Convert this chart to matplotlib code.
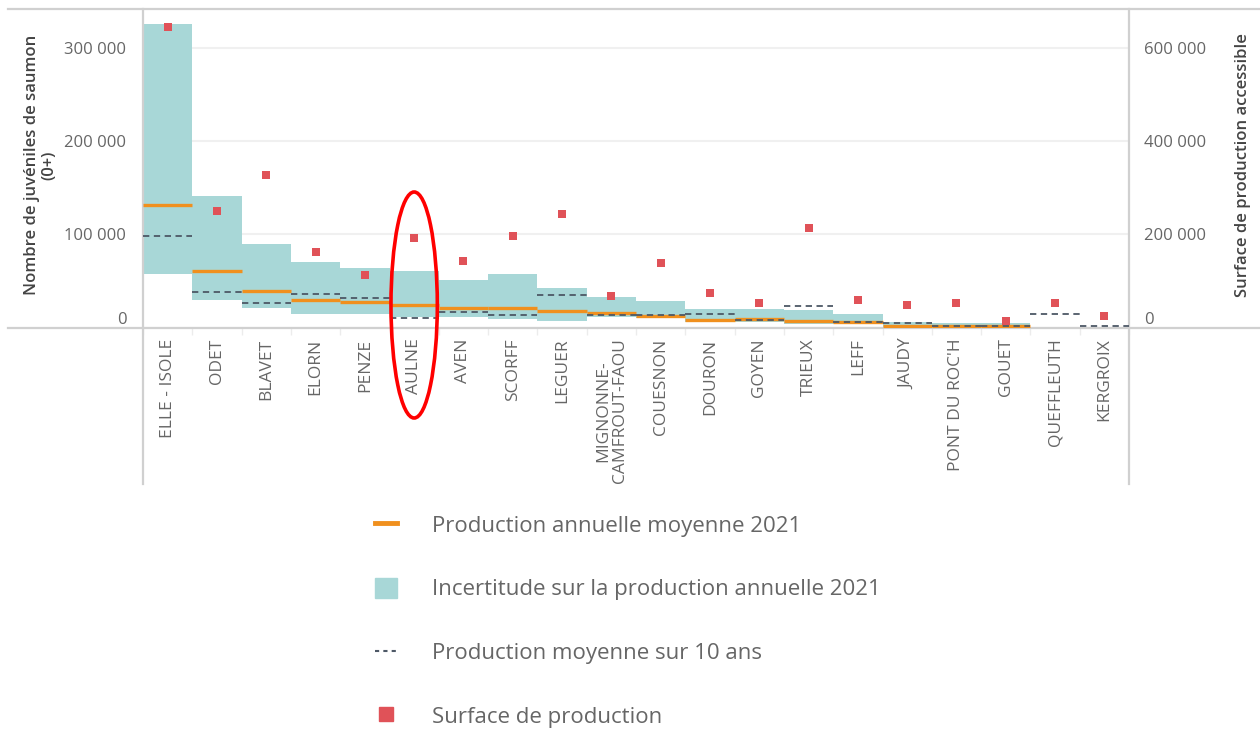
import numpy as np
import matplotlib.pyplot as plt
import matplotlib.transforms as mtransforms
from matplotlib.ticker import FuncFormatter, FixedLocator
from matplotlib.lines import Line2D
from matplotlib.patches import Patch, Ellipse

plt.rcParams['font.family'] = ['Open Sans', 'DejaVu Sans']

# data
rivers = ["ELLE - ISOLE", "ODET", "BLAVET", "ELORN", "PENZE", "AULNE", "AVEN", "SCORFF",
          "LEGUER", "MIGNONNE-\nCAMFROUT-FAOU", "COUESNON", "DOURON", "GOYEN", "TRIEUX",
          "LEFF", "JAUDY", "PONT DU ROC'H", "GOUET", "QUEFFLEUTH", "KERGROIX"]
prod_2021 = [131600, 60900, 39100, 29150, 27650, 24100, 20900, 20600, 17400, 15500,
             12000, 8040, 9100, 7300, 5600, 1900, 1900, 1600, np.nan, np.nan]
prod_low = [57300, 29150, 20600, 14100, 14100, 11250, 10900, 8800, 7300, 11600,
            9860, 5570, 5570, 4100, 3750, 600, 600, 600, np.nan, np.nan]
prod_high = [325300, 141000, 89200, 70500, 64100, 60600, 50600, 57300, 42300, 32400,
             28700, 20150, 20150, 18400, 14100, 6200, 4500, 5150, np.nan, np.nan]
prod_10y = [98400, 38000, 26300, 36200, 31600, 9860, 16300, 13100, 34800, 13700,
            13400, 14800, 8000, 23400, 6000, 4500, 1900, 1600, 14800, 1600]
surface = [644800, 249000, 326300, 161800, 111900, 192500, 141900, 195500, 242600, 68200,
           138300, 74600, 51900, 212600, 58300, 47600, 51900, 14600, 51900, 24600]
highlight = "AULNE"

teal = "#a8d7d7"
orange = "#f0901e"
dash_col = "#4d5866"
red = "#e05258"
grey_txt = "#666666"
line_col = "#d0d0d0"

fig = plt.figure(figsize=(12.6, 7.31), dpi=100)
ax = fig.add_axes([143/1260, 1-327.5/731, 986/1260, 318.5/731])
ax2 = ax.twinx()

x = np.arange(len(rivers))
low = np.array(prod_low)
high = np.array(prod_high)
ax.bar(x, high-low, bottom=low, width=1.0, color=teal, zorder=2)
ax.hlines(prod_2021, x-0.5, x+0.5, color=orange, lw=2.4, zorder=3)
ax.hlines(prod_10y, x-0.5, x+0.5, color=dash_col, lw=1.3, linestyles=(0, (3.5, 2.5)), zorder=4)
ax2.scatter(x, surface, marker='s', s=26, color=red, zorder=5, linewidths=0)

ax.set_xlim(-0.5, len(rivers)-0.5)
ax.set_ylim(0, 341500)
ax2.set_ylim(0, 683000)

fmt = FuncFormatter(lambda v, p: f"{v:,.0f}".replace(",", " "))
ax.yaxis.set_major_locator(FixedLocator([0, 100000, 200000, 300000]))
ax2.yaxis.set_major_locator(FixedLocator([0, 200000, 400000, 600000]))
ax.yaxis.set_major_formatter(fmt)
ax2.yaxis.set_major_formatter(fmt)
ax.grid(axis='y', color="#f0f0f0", lw=1.5, zorder=0)
ax.set_axisbelow(True)

ax.tick_params(axis='y', length=0, pad=12, labelsize=12, labelcolor=grey_txt)
ax2.tick_params(axis='y', length=0, pad=11, labelsize=12, labelcolor=grey_txt)
for a in (ax, ax2):
    a.get_yticklabels()[0].set_va('bottom')

ax.set_xticks(x)
ax.set_xticklabels(rivers, rotation=90, va='top', ha='center', fontsize=12.5,
                   color=grey_txt, linespacing=1.05)
ax.set_xticks(np.arange(len(rivers)+1)-0.5, minor=True)
ax.tick_params(axis='x', which='major', length=0, pad=8)
ax.tick_params(axis='x', which='minor', length=5, color="#ececec", width=1)

for a in (ax, ax2):
    for s in a.spines.values():
        s.set_visible(False)
# frame lines
ax.axhline(0, xmin=-0.137, xmax=1.135, color=line_col, lw=1.6, clip_on=False, zorder=1)
ax.axhline(341500, xmin=-0.137, xmax=1.135, color=line_col, lw=1.6, clip_on=False, zorder=1)
ax.axvline(-0.5, ymin=-0.49, ymax=1, color=line_col, lw=1.6, clip_on=False)
ax.axvline(len(rivers)-0.5, ymin=-0.49, ymax=1, color=line_col, lw=1.6, clip_on=False)

ax.set_ylabel("Nombre de juvéniles de saumon\n(0+)", fontsize=12, color="#444444",
              fontweight='semibold', linespacing=1.1)
ax.yaxis.set_label_coords(-0.087, 0.51)
ax2.set_ylabel("Surface de production accessible", fontsize=12, color="#444444",
               fontweight='semibold')
ax2.yaxis.set_label_coords(1.107, 0.51)

# red ellipse around the highlighted river
trans = mtransforms.blended_transform_factory(ax.transData, fig.transFigure)
ell = Ellipse((rivers.index(highlight), 1-305/731), 0.94, 226/731, transform=trans,
              fill=False, edgecolor="#ff0000", lw=2.6, clip_on=False, zorder=10)
fig.add_artist(ell)

handles = [Line2D([0], [0], color=orange, lw=3.5),
           Patch(color=teal),
           Line2D([0], [0], color=dash_col, lw=1.5, linestyle=(0, (2, 2))),
           Line2D([0], [0], marker='s', color=red, lw=0, markersize=10)]
labels = ["Production annuelle moyenne 2021",
          "Incertitude sur la production annuelle 2021",
          "Production moyenne sur 10 ans",
          "Surface de production"]
leg = fig.legend(handles, labels, loc='upper left', bbox_to_anchor=(375/1260, 1-514/731),
                 frameon=False, fontsize=16, labelspacing=1.86, handlelength=1.0,
                 handleheight=1.0, handletextpad=1.55, borderpad=0, borderaxespad=0)
for t in leg.get_texts():
    t.set_color(grey_txt)

fig.savefig("out.png", dpi=100)
